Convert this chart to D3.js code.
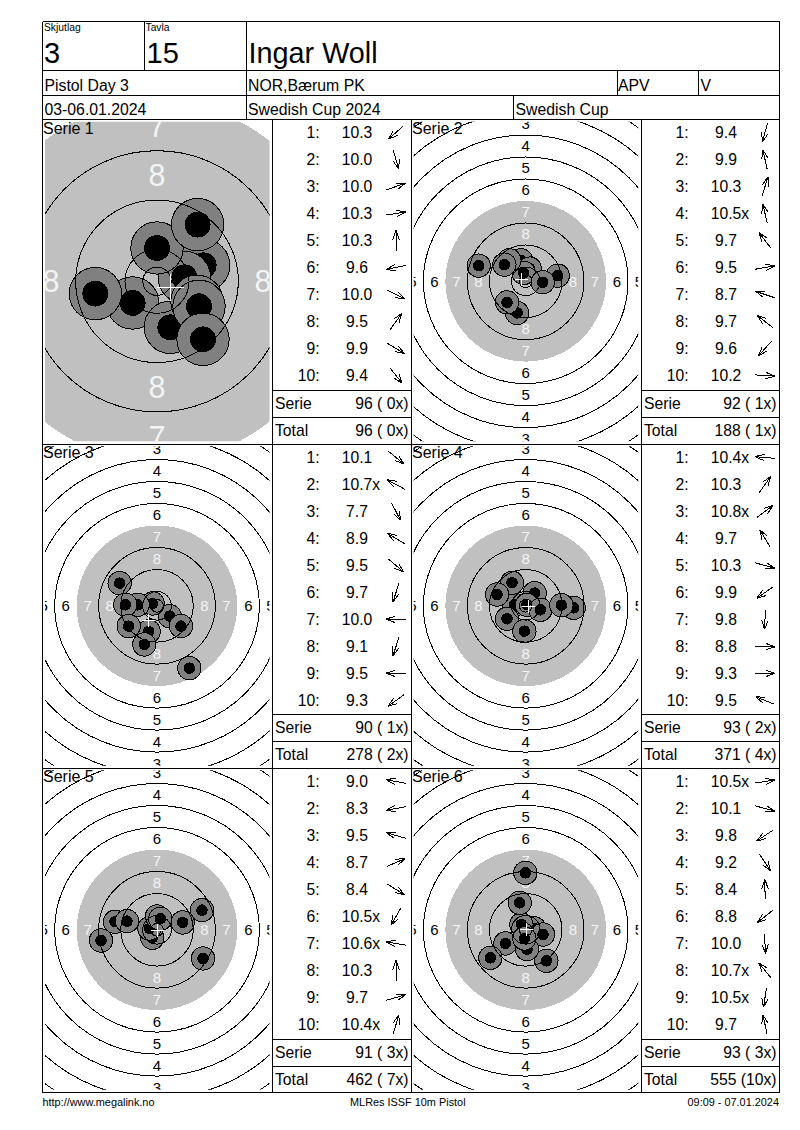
<!DOCTYPE html>
<html>
<head>
<meta charset="utf-8">
<title>Ingar Woll</title>
<script src="https://cdn.jsdelivr.net/npm/d3@7"></script>
<style>
  body { margin: 0; background: #fff; }
  svg { display: block; font-family: "Liberation Sans", Arial, sans-serif; }
  text { white-space: pre; }
</style>
</head>
<body>
<div id="card"></div>
<script>
const serie_names = ["Serie 1", "Serie 2", "Serie 3", "Serie 4", "Serie 5", "Serie 6"];

const shot_scores = [
  ["10.3", "10.0", "10.0", "10.3", "10.3", " 9.6", "10.0", " 9.5", " 9.9", " 9.4"],
  [" 9.4", " 9.9", "10.3", "10.5x", " 9.7", " 9.5", " 8.7", " 9.7", " 9.6", "10.2"],
  ["10.1", "10.7x", " 7.7", " 8.9", " 9.5", " 9.7", "10.0", " 9.1", " 9.5", " 9.3"],
  ["10.4x", "10.3", "10.8x", " 9.7", "10.3", " 9.9", " 9.8", " 8.8", " 9.3", " 9.5"],
  [" 9.0", " 8.3", " 9.5", " 8.7", " 8.4", "10.5x", "10.6x", "10.3", " 9.7", "10.4x"],
  ["10.5x", "10.1", " 9.8", " 9.2", " 8.4", " 8.8", "10.0", "10.7x", "10.5x", " 9.7"]
];

// shot positions on the target in mm from the centre, y pointing up
const shots_x = [
  [-3.95, 2.16, 7.58, 4.44, 0, -10.01, 6.49, 6.6, 6.82, 7.47],
  [-3.15, -1.7, 1.45, -0.73, -5.94, 11.64, -17.09, -7.76, -6.79, 6.18],
  [4.61, -1.58, 11.76, -13.58, 8.73, -3.03, -7.03, -4.61, -11.52, -10.3],
  [-4.12, 3.27, 0.48, -4.97, 5.33, -6.79, -0.48, 17.45, 12.97, -10.42],
  [-15.27, -20.36, -10.91, 16.36, 16.73, -1.7, -2.79, 0, 9.33, 1.21],
  [3.15, 6.3, -7.39, 7.52, -0.12, -12.85, 0.48, -1.58, -0.48, -2.18]
];
const shots_y = [
  [-3.52, -7.47, 2.6, 0.65, 5.41, -2, -3.25, 9.2, -4.06, -9.42],
  [-11.52, 7.64, 4.61, 3.03, 7.64, 2.06, 5.7, 6.06, -7.64, -0.36],
  [-3.76, 0.85, -22.67, 8.24, -7.39, -9.33, 0.36, -14.06, 0.36, -7.39],
  [0.36, 4.61, 0.36, 8.36, -1.45, -4.73, -9.21, -0.73, 0.24, 4.12],
  [2.91, -3.88, 3.15, 7.15, -10.42, -2.91, 0.48, 4.85, 2.67, 4],
  [0.48, -1.7, -4.97, -11.27, 20.73, -10.18, -7.03, 1.94, -3.15, 9.82]
];

// white cross of each serie (mean point of impact)
const cross_x = [2.06, -1.7, -3.15, 0.73, 0, 0.24];
const cross_y = [-0.97, 0.85, -5.21, -0.24, 0, 0.12];

const serie_sums = ["96 ( 0x)", "92 ( 1x)", "90 ( 1x)", "93 ( 2x)", "91 ( 3x)", "93 ( 3x)"];
const total_sums = ["96 ( 0x)", "188 ( 1x)", "278 ( 2x)", "371 ( 4x)", "462 ( 7x)", "555 (10x)"];

// target geometry in mm
const ring_radius = [77.2, 69.2, 61.2, 53.2, 45.2, 37.2, 21.2, 13.2, 5.2];
const label_values = [3, 4, 5, 6, 7, 8];
const label_radius = [57.2, 49.2, 41.2, 33.2, 25.2, 17.2];
const black_radius = 29.2;
const x_ring = 2.3;
const hole_radius = 4.25;
const hole_core = 2.1;
const cross_arm = 2.27;

const width = 800;
const height = 1130;

const col_x = [42.5, 411.5];
const col_mid = [272.5, 641.5];
const col_end = [411.5, 779.5];
const row_top = [119.5, 444.5, 768.5];
const row_cy = [281.3, 605.8, 929.8];
const centre_x = [157, 525.7];
const serie_line = [390.5, 714.5, 1039.5];
const total_line = [417.5, 741.5, 1066.5];
const serie_base = [409.3, 733.3, 1057.9];
const total_base = [435.6, 759.9, 1084.9];

const svg = d3.select("#card")
  .append("svg")
  .attr("width", width)
  .attr("height", height)
  .attr("viewBox", `0 0 ${width} ${height}`);

svg.append("rect").attr("width", width).attr("height", height).attr("fill", "#fff");

const add_text = (g, x, y, str, size, anchor) =>
  g.append("text")
    .attr("x", x)
    .attr("y", y)
    .attr("font-size", size)
    .attr("text-anchor", anchor || "start")
    .attr("fill", "#000")
    .text(str);

const add_line = (g, x1, y1, x2, y2) =>
  g.append("line")
    .attr("x1", x1).attr("y1", y1).attr("x2", x2).attr("y2", y2)
    .attr("stroke", "#000")
    .attr("stroke-width", 1)
    .attr("shape-rendering", "crispEdges");

/*
 * TARGET
 * */

const draw_target = (i) => {
  const col = i % 2;
  const row = Math.floor(i / 2);
  const cx = centre_x[col];
  const cy = row_cy[row];
  const k = i === 0 ? 6.16 : 2.75;

  const x = d3.scaleLinear().domain([0, 1]).range([cx, cx + k]);
  const y = d3.scaleLinear().domain([0, 1]).range([cy, cy - k]);
  const r = d3.scaleLinear().domain([0, 1]).range([0, k]);

  const clip_id = `clip-${i}`;
  svg.append("clipPath")
    .attr("id", clip_id)
    .append("rect")
    .attr("x", cx - 112)
    .attr("y", cy - 159.5)
    .attr("width", 224.5)
    .attr("height", 319.5);

  const g = svg.append("g").attr("clip-path", `url(#${clip_id})`);

  g.append("circle")
    .attr("cx", cx).attr("cy", cy).attr("r", r(black_radius))
    .attr("fill", "#c0c0c0")
    .attr("shape-rendering", "crispEdges");

  // ring numbers on the four axes
  const label_size = i === 0 ? 30.5 : 15;
  label_values.forEach((v, j) => {
    const d = r(label_radius[j]);
    [[0, -d], [0, d], [-d, 0], [d, 0]].forEach(([dx, dy]) => {
      g.append("text")
        .attr("x", cx + dx)
        .attr("y", cy + dy)
        .attr("dy", "0.36em")
        .attr("text-anchor", "middle")
        .attr("font-size", label_size)
        .attr("fill", v >= 7 ? "#f4f4f4" : "#000")
        .text(v);
    });
  });

  // shots in firing order, later ones on top
  shots_x[i].forEach((sx, j) => {
    const sy = shots_y[i][j];
    g.append("circle")
      .attr("cx", x(sx)).attr("cy", y(sy)).attr("r", r(hole_radius))
      .attr("fill", "#808080")
      .attr("stroke", "#000")
      .attr("shape-rendering", "crispEdges");
    g.append("circle")
      .attr("cx", x(sx)).attr("cy", y(sy)).attr("r", r(hole_core))
      .attr("fill", "#000")
      .attr("shape-rendering", "crispEdges");
  });

  // rings lie on top of the shots
  ring_radius.concat([x_ring]).forEach((d) => {
    g.append("circle")
      .attr("cx", cx).attr("cy", cy).attr("r", r(d))
      .attr("fill", "none")
      .attr("stroke", "#000")
      .attr("shape-rendering", "crispEdges");
  });

  const px = Math.round(x(cross_x[i])) + 0.5;
  const py = Math.round(y(cross_y[i])) + 0.5;
  const arm = r(cross_arm);
  [[px - arm, py, px + arm, py], [px, py - arm, px, py + arm]].forEach(([x1, y1, x2, y2]) => {
    g.append("line")
      .attr("x1", x1).attr("y1", y1).attr("x2", x2).attr("y2", y2)
      .attr("stroke", "#fff")
      .attr("shape-rendering", "crispEdges");
  });

  add_text(svg, col_x[col] + 0.5, cy - 147.6, serie_names[i], 16);
};

/*
 * SCORE TABLE
 * */

const draw_arrow = (g, cx, cy, dx, dy) => {
  const len = 10;
  const head = 9.8;
  const a = Math.atan2(dy, dx);
  const tipx = cx + len * Math.cos(a);
  const tipy = cy + len * Math.sin(a);
  const path = d3.path();
  path.moveTo(cx - len * Math.cos(a), cy - len * Math.sin(a));
  path.lineTo(tipx, tipy);
  [-0.33, 0.33].forEach((t) => {
    path.moveTo(tipx - head * Math.cos(a + t), tipy - head * Math.sin(a + t));
    path.lineTo(tipx, tipy);
  });
  g.append("path")
    .attr("d", path.toString())
    .attr("fill", "none")
    .attr("stroke", "#000")
    .attr("shape-rendering", "crispEdges");
};

const draw_table = (i) => {
  const col = i % 2;
  const row = Math.floor(i / 2);
  const left = col_mid[col];
  const right = col_end[col];
  const top = row_top[row];
  const size = 15.7;

  const g = svg.append("g");
  const y = d3.scaleBand()
    .domain(d3.range(1, 11))
    .range([top, top + 270]);

  shot_scores[i].forEach((score, j) => {
    const ym = y(j + 1) + 13;
    g.append("text")
      .attr("x", left + 47)
      .attr("y", ym + 5.6)
      .attr("font-size", size)
      .attr("text-anchor", "end")
      .text(`${j + 1}:`);
    g.append("text")
      .attr("x", left + 69.2)
      .attr("y", ym + 5.6)
      .attr("font-size", size)
      .text(score);
    draw_arrow(g, left + 123.5, ym, shots_x[i][j], -shots_y[i][j]);
  });

  add_line(g, left, serie_line[row], right, serie_line[row]);
  add_line(g, left, total_line[row], right, total_line[row]);
  add_text(g, left + 2.5, serie_base[row], "Serie", size);
  add_text(g, right - 3, serie_base[row], serie_sums[i], size, "end");
  add_text(g, left + 2.5, total_base[row], "Total", size);
  add_text(g, right - 3, total_base[row], total_sums[i], size, "end");
};

d3.range(6).forEach(draw_target);
d3.range(6).forEach(draw_table);

/*
 * HEADER AND FRAME
 * */

const head = svg.append("g");
add_text(head, 44, 31, "Skjutlag", 10.3);
add_text(head, 145.5, 31, "Tavla", 10.3);
add_text(head, 44, 62.5, "3", 29);
add_text(head, 146.5, 62.5, "15", 29);
add_text(head, 248.5, 62.5, "Ingar Woll", 28.8);
add_text(head, 44.5, 91, "Pistol Day 3", 15.8);
add_text(head, 248, 91, "NOR,Bærum PK", 15.8);
add_text(head, 618, 91, "APV", 15.8);
add_text(head, 700.5, 91, "V", 15.8);
add_text(head, 44.5, 115, "03-06.01.2024", 15.8);
add_text(head, 248, 115, "Swedish Cup 2024", 15.8);
add_text(head, 515.5, 115, "Swedish Cup", 15.8);

add_text(head, 42.5, 1105.5, "http://www.megalink.no", 10.9);
add_text(head, 350, 1105.5, "MLRes ISSF 10m Pistol", 10.9);
add_text(head, 779, 1105.5, "09:09 - 07.01.2024", 10.9, "end");

const frame = [
  [42.5, 21.5, 779.5, 21.5],
  [42.5, 70.5, 779.5, 70.5],
  [42.5, 95.5, 779.5, 95.5],
  [42.5, 119.5, 779.5, 119.5],
  [42.5, 444.5, 779.5, 444.5],
  [42.5, 768.5, 779.5, 768.5],
  [42.5, 1092.5, 779.5, 1092.5],
  [42.5, 21.5, 42.5, 1092.5],
  [779.5, 21.5, 779.5, 1092.5],
  [144.5, 21.5, 144.5, 70.5],
  [246.5, 21.5, 246.5, 119.5],
  [617.5, 70.5, 617.5, 95.5],
  [698.5, 70.5, 698.5, 95.5],
  [513.5, 95.5, 513.5, 119.5],
  [272.5, 119.5, 272.5, 1092.5],
  [411.5, 119.5, 411.5, 1092.5],
  [641.5, 119.5, 641.5, 1092.5]
];
frame.forEach(([x1, y1, x2, y2]) => add_line(svg, x1, y1, x2, y2));
</script>
</body>
</html>
